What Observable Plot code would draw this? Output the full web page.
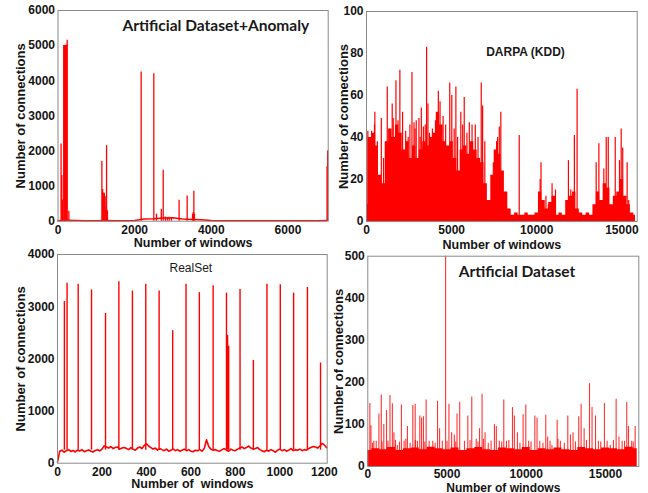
<!DOCTYPE html>
<html><head><meta charset="utf-8">
<script src="https://cdn.jsdelivr.net/npm/d3@7"></script>
<script src="https://cdn.jsdelivr.net/npm/@observablehq/plot@0.6"></script>
<style>
body{margin:0;background:#fff;}
#c{position:relative;width:648px;height:493px;overflow:hidden;background:#fff;}
#c svg{position:absolute;left:0;top:0;}
</style></head><body><div id="c"></div>
<script>
// ---------- Panel 1: Artificial Dataset+Anomaly ----------
const anomTitle = "Artificial Dataset+Anomaly";
const anomBaseStep = 250;
const anomBase = [10,25,20,15,15,20,15,15,20,60,70,90,100,60,50,40,20,15,15,15,15,15,15,15,15,15,15,15,20];
const anomSpikeX = [80,100,117,150,165,180,195,210,225,240,283,1145,1165,1180,1195,1210,1230,1250,1267,1290,2170,2500,2570,2695,2745,2800,2850,2900,2960,3160,3370,3510,3530,3545,3560,7020,7035];
const anomSpikeY = [2200,1300,600,5000,5000,4980,5000,5020,5000,5150,280,1700,900,750,800,780,700,400,2150,300,4250,4200,200,330,1450,120,100,110,80,600,720,200,250,850,200,1550,2000];
const anomXTicks = [0,2000,4000,6000];
const anomYTicks = [0,1000,2000,3000,4000,5000,6000];

// ---------- Panel 2: DARPA (KDD) ----------
const darpaTitle = "DARPA (KDD)";
const darpaFillStep = 200;
const darpaFill = [8,40,42,36,22,18,38,44,40,46,42,34,38,30,36,30,34,38,36,40,42,52,46,38,36,38,30,24,34,36,32,38,34,30,28,18,10,22,34,32,24,14,6,3,4,3,3,4,3,3,4,14,10,6,9,12,3,4,3,10,12,14,6,4,3,4,3,8,14,10,18,16,8,12,14,20,12,8,4,3];
const darpaSpikeX = [80,150,300,470,490,640,870,1000,1120,1220,1350,1510,1570,1730,1850,1960,2120,2300,2450,2550,2670,2790,2850,2920,3080,3150,3220,3340,3450,3530,3610,3700,3870,4050,4220,4320,4400,4500,4650,4890,5010,5150,5250,5350,5540,5650,5740,5900,6040,6150,6200,6390,6550,6740,6820,6950,7450,7640,7700,7800,7890,8970,10200,10250,10540,10680,10900,11100,11860,12000,12210,12370,13490,13650,13940,14080,14200,14610,14860,14960,15050,15310,15400];
const darpaSpikeY = [43,40,43,46,52,38,49,30,35,64,44,56,49,67,48,72,52,43,40,46,71,47,44,48,49,40,54,45,46,83,56,42,44,48,62,57,44,50,46,66,60,44,64,40,52,46,59,42,47,36,46,46,40,66,55,38,28,38,40,45,52,41,20,28,12,8,18,15,29,15,41,63,28,37,25,40,40,40,29,44,35,28,10];
const darpaXTicks = [0,5000,10000,15000];
const darpaYTicks = [0,20,40,60,80,100];

// ---------- Panel 3: RealSet ----------
const realTitle = "RealSet";
const realBaseStep = 10;
const realBase = [20,230,250,210,240,260,225,245,215,250,235,260,220,240,255,230,215,245,260,235,
  270,330,310,290,320,280,300,310,270,290,300,
  280,260,300,270,250,290,310,280,340,370,
  330,300,270,290,250,280,260,240,270,230,
  250,270,240,260,230,250,270,240,260,230,
  220,250,240,260,230,280,450,320,270,250,
  260,240,230,260,280,250,230,270,250,240,
  270,290,310,280,300,330,290,270,280,300,
  260,240,220,250,230,260,240,210,250,270,
  240,260,230,250,280,240,260,250,270,240,
  260,250,280,300,320,310,290,330,380,350,300];
const realSpikeX = [31,43,93,153,216,276,337,397,457,518,578,638,700,760,765,770,821,881,942,1002,1062,1124,1183];
const realSpikeY = [3100,3450,3430,3320,2870,3480,3300,3430,3300,2540,3430,3270,3400,3260,2450,2240,3330,1970,3430,3420,3260,3370,1920];
const realXTicks = [0,200,400,600,800,1000,1200];
const realYTicks = [0,1000,2000,3000,4000];

// ---------- Panel 4: Artificial Dataset ----------
const artTitle = "Artificial Dataset";
const artBaseStep = 500;
const artBase = [38,42,40,45,38,42,44,40,46,42,40,44,38,42,45,40,38,44,42,40,45,38,42,40,44,40,38,45,42,40,44,42,40,46,42];
const artSpikeX = [130,200,300,380,530,700,850,900,1010,1180,1270,1400,1550,1650,1750,1860,2000,2120,2290,2400,2500,2670,2840,2990,3000,3130,3280,3390,3510,3600,3680,3870,4100,4250,4400,4530,4700,4910,5000,5120,5290,5460,5550,5630,5800,6100,6310,6450,6560,6840,6950,7050,7210,7300,7400,7600,7780,7990,8110,8300,8450,8580,8750,8900,9130,9250,9440,9600,9800,9970,10150,10300,10540,10680,10850,11050,11230,11350,11500,11620,11950,12000,12150,12400,12620,12790,12950,13100,13310,13460,13650,13800,13990,14150,14370,14550,14700,14930,15100,15300,15500,15670,15850,16050,16200,16340,16450,16650,16750,16870];
const artSpikeY = [150,97,55,60,60,125,170,58,100,133,60,169,149,80,62,50,58,146,60,65,95,55,145,148,62,60,120,115,118,58,158,60,60,55,155,90,60,500,60,148,80,75,58,125,153,60,120,62,165,65,58,90,172,65,80,55,60,100,95,60,58,158,60,62,140,120,80,55,123,146,60,58,120,115,60,55,122,70,60,50,110,65,60,55,120,75,80,58,118,148,90,62,197,140,120,60,58,150,60,50,62,160,70,60,60,152,95,60,58,95];
const artXTicks = [0,5000,10000,15000];
const artYTicks = [0,100,200,300,400,500];

const yLabel = "Number of connections";
const xLabel = "Number of windows";
const xLabelReal = "Number of  windows";

// ---------- drawing ----------
const W = 648, H = 493;
const font = '"Liberation Sans", Arial, Helvetica, sans-serif';
const titleFont = 'Lato, "Open Sans", sans-serif';
const red = "#ff0000";
const ink = "#151515";
const fmt = d => String(d);
const pts = (xs, ys) => xs.map((x, i) => ({x, y: ys[i]}));
const seq = (vals, step) => vals.map((y, i) => ({x: i * step, y}));

function panel(o) {
  return Plot.plot({
    width: W, height: H,
    marginLeft: o.left, marginRight: W - o.right, marginTop: o.top, marginBottom: H - o.bottom,
    style: {background: "transparent", overflow: "visible", fontFamily: font, fontSize: "12px", fontWeight: "bold", color: ink},
    x: {domain: o.xDomain},
    y: {domain: o.yDomain},
    marks: [
      ...o.marks,
      Plot.frame({stroke: "#8a8a8a"}),
      Plot.axisX(o.xTicks, {anchor: "bottom", tickSize: 0, tickPadding: o.xpad ?? 4, tickFormat: fmt, label: null, fill: ink}),
      Plot.axisY(o.yTicks, {anchor: "left", tickSize: 0, tickPadding: 3, tickFormat: fmt, label: null, fill: ink}),
      Plot.text([o.xlabel], {frameAnchor: "bottom", textAnchor: "middle", lineAnchor: "bottom", dy: o.xlo, fontSize: o.xfs ?? 12.5, fontWeight: "bold", fill: ink}),
      Plot.text([yLabel], {frameAnchor: "left", textAnchor: "middle", lineAnchor: "top", rotate: -90, dx: -o.ylo, fontSize: 13, fontWeight: "bold", fill: ink}),
      ...o.titles
    ]
  });
}

const c = document.getElementById("c");

// Panel 1
c.appendChild(panel({
  left: 57.5, right: 327.7, top: 10, bottom: 220.7,
  xDomain: [0, 7050], yDomain: [0, 6000], xTicks: anomXTicks, yTicks: anomYTicks,
  xlabel: xLabel, xlo: 25.5, ylo: 42.5,
  marks: [
    Plot.line(seq(anomBase, anomBaseStep), {x: "x", y: "y", stroke: red, strokeWidth: 1.5}),
    Plot.ruleX(pts(anomSpikeX, anomSpikeY), {x: "x", y1: 0, y2: "y", stroke: red, strokeWidth: 1.3})
  ],
  titles: [
    Plot.text([anomTitle], {frameAnchor: "top-left", textAnchor: "start", lineAnchor: "bottom", dx: 64.5, dy: 20, fontFamily: titleFont, fontSize: 15.5, fontWeight: "bold", fill: "#1a1a1a"})
  ]
}));

// Panel 2
c.appendChild(panel({
  left: 366, right: 636.7, top: 11, bottom: 221,
  xDomain: [0, 15900], yDomain: [0, 100], xTicks: darpaXTicks, yTicks: darpaYTicks,
  xlabel: xLabel, xlo: 27, ylo: 28,
  marks: [
    Plot.areaY(seq(darpaFill, darpaFillStep), {x: "x", y: "y", fill: red, curve: "step"}),
    Plot.ruleX(pts(darpaSpikeX, darpaSpikeY), {x: "x", y1: 0, y2: "y", stroke: red, strokeWidth: 1.2})
  ],
  titles: [
    Plot.text([darpaTitle], {frameAnchor: "top-left", textAnchor: "start", lineAnchor: "bottom", dx: 119.7, dy: 44, fontSize: 12, fontWeight: "bold", fill: "#1a1a1a"})
  ]
}));

// Panel 3
c.appendChild(panel({
  left: 57, right: 326.7, top: 254, bottom: 462.7,
  xDomain: [0, 1213], yDomain: [0, 4000], xTicks: realXTicks, yTicks: realYTicks,
  xlabel: xLabelReal, xlo: 25, ylo: 42,
  marks: [
    Plot.ruleX(pts(realSpikeX, realSpikeY), {x: "x", y1: 250, y2: "y", stroke: red, strokeWidth: 1.4}),
    Plot.line(seq(realBase, realBaseStep), {x: "x", y: "y", stroke: red, strokeWidth: 1.6})
  ],
  titles: [
    Plot.text([realTitle], {frameAnchor: "top-left", textAnchor: "start", lineAnchor: "bottom", dx: 112, dy: 17.7, fontSize: 12, fontWeight: "normal", fill: "#1a1a1a"})
  ]
}));

// Panel 4
c.appendChild(panel({
  left: 367.3, right: 638.3, top: 255.7, bottom: 466,
  xDomain: [0, 17100], yDomain: [0, 500], xTicks: artXTicks, yTicks: artYTicks,
  xlabel: xLabel, xlo: 25, xfs: 12, xpad: 2.5, ylo: 34,
  marks: [
    Plot.areaY(seq(artBase, artBaseStep), {x: "x", y: "y", fill: red, curve: "step"}),
    Plot.ruleX(pts(artSpikeX, artSpikeY), {x: "x", y1: 0, y2: "y", stroke: red, strokeWidth: 1.1, strokeOpacity: 0.8})
  ],
  titles: [
    Plot.text([artTitle], {frameAnchor: "top-left", textAnchor: "start", lineAnchor: "bottom", dx: 91, dy: 20.3, fontFamily: titleFont, fontSize: 15.5, fontWeight: "bold", fill: "#1a1a1a"})
  ]
}));
</script>
</body></html>
